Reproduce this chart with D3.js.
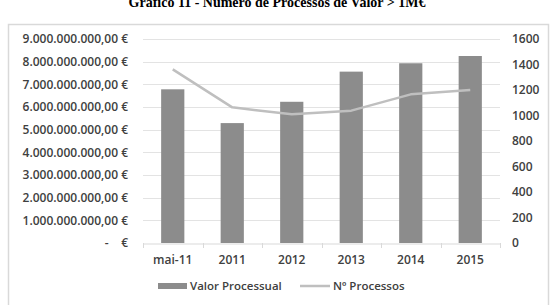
<!DOCTYPE html>
<html>
<head>
<meta charset="utf-8">
<script src="https://cdn.jsdelivr.net/npm/d3@7"></script>
<style>
  body { margin: 0; background: #fff; }
  svg { display: block; }
  text { white-space: pre; }
</style>
</head>
<body>
<figure id="chart" style="margin:0"></figure>
<script>
// chart data
var categories = ["mai-11", "2011", "2012", "2013", "2014", "2015"];
var valorProcessual = [6.78e9, 5.29e9, 6.23e9, 7.56e9, 7.93e9, 8.25e9];
var numProcessos = [1362, 1064, 1009, 1038, 1166, 1200];
var leftTicks = [0, 1e9, 2e9, 3e9, 4e9, 5e9, 6e9, 7e9, 8e9, 9e9];
var rightTicks = [0, 200, 400, 600, 800, 1000, 1200, 1400, 1600];

var width = 555, height = 305;
var plot = { left: 143, right: 500, top: 39, bottom: 243 };
var labelFont = "'Open Sans', 'Liberation Sans', sans-serif";

var svg = d3.select("figure#chart")
  .append("svg")
  .attr("width", width)
  .attr("height", height);

// title (partly cut at the top, as in the source)
svg.append("text")
  .attr("x", 277)
  .attr("y", 7)
  .attr("text-anchor", "middle")
  .style("font-family", "'Liberation Serif', serif")
  .style("font-weight", "bold")
  .style("font-size", "14px")
  .style("fill", "#000")
  .text("Gráfico 11 - Número de Processos de Valor > 1M€");

// chart frame
svg.append("path")
  .attr("d", "M8.5," + height + "V24.5H548.5V" + height)
  .attr("fill", "none")
  .attr("stroke", "#d9d9d9")
  .attr("stroke-width", 1.5);

var x = d3.scaleBand()
  .domain(categories)
  .range([plot.left, plot.right])
  .paddingInner(0.61)
  .paddingOuter(0.305);

var xOuter = d3.scaleBand()
  .domain(categories)
  .range([plot.left, plot.right]);

var yLeft = d3.scaleLinear()
  .domain([0, 9e9])
  .range([plot.bottom, plot.top]);

var yRight = d3.scaleLinear()
  .domain([0, 1600])
  .range([plot.bottom, plot.top]);

// gridlines
svg.append("g").selectAll("line")
  .data(leftTicks.slice(1))
  .enter()
  .append("line")
  .attr("x1", plot.left)
  .attr("x2", plot.right)
  .attr("y1", d => Math.round(yLeft(d)) + 0.5)
  .attr("y2", d => Math.round(yLeft(d)) + 0.5)
  .attr("stroke", "#e3e3e3")
  .attr("stroke-width", 1);

var fmt = function(v) {
  if (v === 0) return "-    €";
  var s = d3.format(",.2f")(v);
  s = s.replace(/,/g, "#").replace(".", ",").replace(/#/g, ".");
  return s + " €";
};

function styleLabel(sel, size) {
  sel.style("font-family", labelFont)
    .style("font-size", size || "12px")
    .style("font-weight", "600")
    .style("fill", "#404040");
}

// left axis labels
svg.append("g").selectAll("text")
  .data(leftTicks)
  .enter()
  .append("text")
  .attr("x", 128)
  .attr("y", d => yLeft(d))
  .attr("dy", "0.35em")
  .attr("text-anchor", "end")
  .call(styleLabel)
  .text(fmt);

// right axis labels
svg.append("g").selectAll("text")
  .data(rightTicks)
  .enter()
  .append("text")
  .attr("x", 512)
  .attr("y", d => yRight(d))
  .attr("dy", "0.35em")
  .attr("text-anchor", "start")
  .call(styleLabel)
  .text(d => d);

// bars
svg.append("g").selectAll("rect")
  .data(valorProcessual)
  .enter()
  .append("rect")
  .attr("x", (d, i) => x(categories[i]))
  .attr("width", x.bandwidth())
  .attr("y", d => yLeft(d))
  .attr("height", d => yLeft(0) - yLeft(d))
  .attr("fill", "#8c8c8c");

// x axis
var xAxis = svg.append("g")
  .attr("transform", "translate(0," + (plot.bottom + 0.5) + ")")
  .call(d3.axisBottom(xOuter).tickSize(0).tickFormat(""));
xAxis.select(".domain").attr("stroke", "#d9d9d9");
svg.append("g").selectAll("line")
  .data(d3.range(categories.length + 1))
  .enter()
  .append("line")
  .attr("x1", i => Math.round(plot.left + i * xOuter.step()) + 0.5)
  .attr("x2", i => Math.round(plot.left + i * xOuter.step()) + 0.5)
  .attr("y1", plot.bottom)
  .attr("y2", plot.bottom + 5)
  .attr("stroke", "#d9d9d9");

svg.append("g").selectAll("text")
  .data(categories)
  .enter()
  .append("text")
  .attr("x", d => xOuter(d) + xOuter.bandwidth() / 2)
  .attr("y", 260)
  .attr("dy", "0.35em")
  .attr("text-anchor", "middle")
  .call(styleLabel)
  .text(d => d);

// line
var line = d3.line()
  .x((d, i) => xOuter(categories[i]) + xOuter.bandwidth() / 2)
  .y(d => yRight(d));

svg.append("path")
  .datum(numProcessos)
  .attr("d", line)
  .attr("fill", "none")
  .attr("stroke", "#bfbfbf")
  .attr("stroke-width", 2.5)
  .attr("stroke-linejoin", "round");

// legend
var legend = svg.append("g").attr("transform", "translate(0,286)");
legend.append("rect")
  .attr("x", 158).attr("y", -3)
  .attr("width", 29).attr("height", 6)
  .attr("fill", "#8c8c8c");
legend.append("text")
  .attr("x", 190).attr("y", 0).attr("dy", "0.35em")
  .call(styleLabel, "11.5px")
  .text("Valor Processual");
legend.append("line")
  .attr("x1", 300).attr("x2", 330)
  .attr("y1", 0).attr("y2", 0)
  .attr("stroke", "#bfbfbf")
  .attr("stroke-width", 2.5);
legend.append("text")
  .attr("x", 333).attr("y", 0).attr("dy", "0.35em")
  .call(styleLabel, "11.5px")
  .text("Nº Processos");
</script>
</body>
</html>
